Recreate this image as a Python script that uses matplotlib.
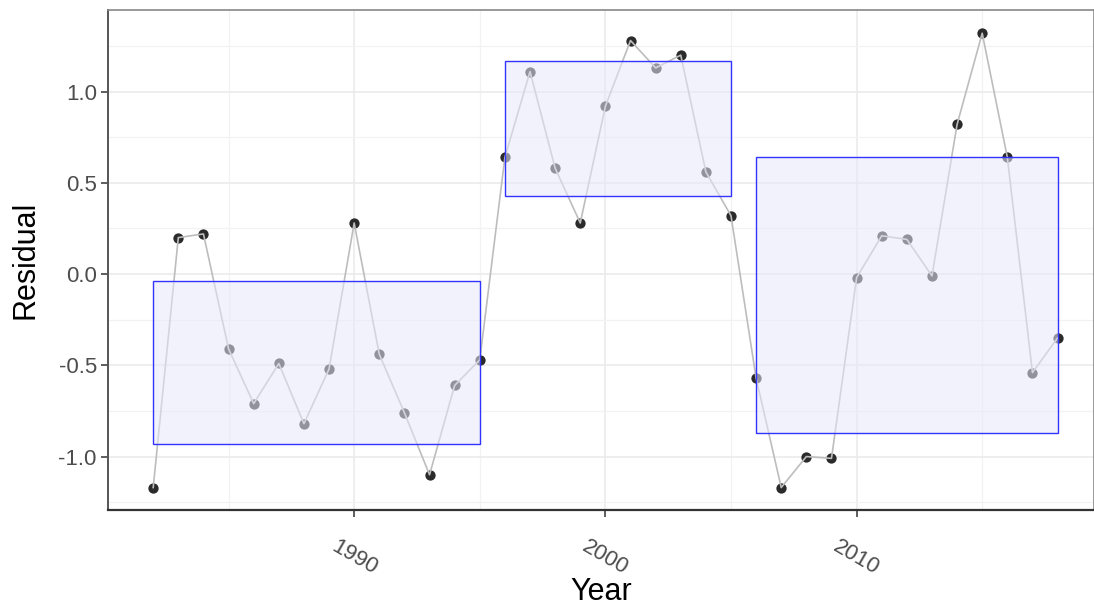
import matplotlib
matplotlib.use("Agg")
import matplotlib.pyplot as plt
from matplotlib.patches import Rectangle
from matplotlib.ticker import MultipleLocator

years = list(range(1982, 2019))
residual = [-1.17, 0.20, 0.22, -0.41, -0.71, -0.49, -0.82, -0.52, 0.28, -0.44,
            -0.76, -1.10, -0.61, -0.47, 0.64, 1.11, 0.58, 0.28, 0.92, 1.28,
            1.13, 1.20, 0.56, 0.32, -0.57, -1.17, -1.00, -1.01, -0.02, 0.21,
            0.19, -0.01, 0.82, 1.32, 0.64, -0.54, -0.35]

# regimes: start year, end year, lower, upper
box_start = [1982, 1996, 2006]
box_end = [1995, 2005, 2018]
box_low = [-0.93, 0.43, -0.87]
box_high = [-0.04, 1.17, 0.64]

plt.rcParams["font.family"] = ["Liberation Sans", "DejaVu Sans"]

fig = plt.figure(figsize=(10.94, 6.06), dpi=100)
ax = fig.add_axes([0.0987, 0.1584, 0.9013, 0.825])

ax.scatter(years, residual, s=55, color="#2b2b2b", zorder=3, linewidths=0)
ax.plot(years, residual, color="#bdbdbd", lw=1.2, zorder=4)
for x0, x1, lo, hi in zip(box_start, box_end, box_low, box_high):
    ax.add_patch(Rectangle((x0, lo), x1 - x0, hi - lo, facecolor="#e8e8fa",
                           alpha=0.55, edgecolor="none", zorder=5))
    ax.add_patch(Rectangle((x0, lo), x1 - x0, hi - lo, facecolor="none",
                           edgecolor="#3333ff", lw=1.0, zorder=6))

ax.set_xlim(1980.2, 2019.45)
ax.set_ylim(-1.293, 1.447)
ax.xaxis.set_major_locator(MultipleLocator(10))
ax.xaxis.set_minor_locator(MultipleLocator(5))
ax.yaxis.set_major_locator(MultipleLocator(0.5))
ax.yaxis.set_minor_locator(MultipleLocator(0.25))
ax.grid(which="major", color="#ebebeb", lw=1.2, zorder=0)
ax.grid(which="minor", color="#f2f2f2", lw=0.9, zorder=0)
ax.set_axisbelow(True)

ax.set_yticks([-1.0, -0.5, 0.0, 0.5, 1.0], ["-1.0", "-0.5", "0.0", "0.5", "1.0"])
ax.tick_params(axis="both", which="minor", length=0)
ax.tick_params(axis="both", which="major", length=5, width=1.1, color="#333333",
               labelcolor="#4d4d4d", labelsize=16)
ax.tick_params(axis="x", pad=14)
ax.tick_params(axis="y", pad=3)
for lab in ax.get_xticklabels():
    lab.set_rotation(-30)
    lab.set_ha("center")
    lab.set_va("top")

for side in ["top", "right"]:
    ax.spines[side].set_color("#888888")
    ax.spines[side].set_linewidth(1.2)
ax.spines["left"].set_color("#555555")
ax.spines["left"].set_linewidth(1.4)
ax.spines["bottom"].set_color("#333333")
ax.spines["bottom"].set_linewidth(1.6)

ax.set_xlabel("Year", fontsize=22, labelpad=-2)
ax.set_ylabel("Residual", fontsize=22, labelpad=13)

fig.savefig("out.png", dpi=100)
